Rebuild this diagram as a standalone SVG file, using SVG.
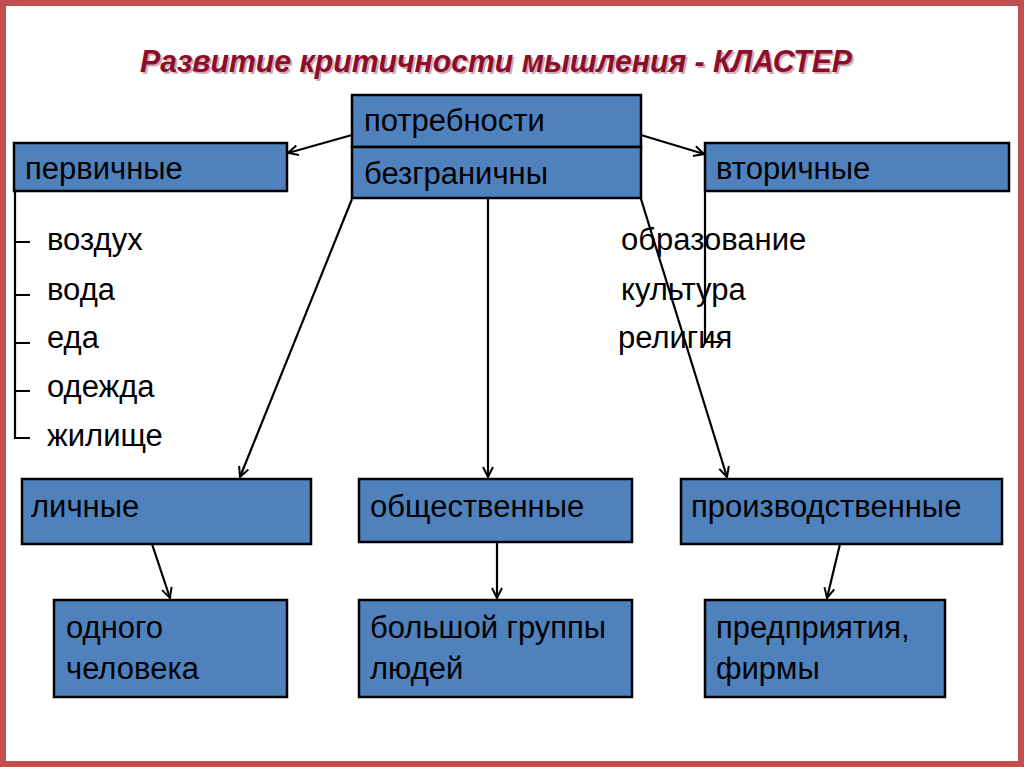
<svg xmlns="http://www.w3.org/2000/svg" width="1024" height="767" viewBox="0 0 1024 767">
<style>
.box{fill:#4f81bd;stroke:#000;stroke-width:2.5}
.t{font-family:"Liberation Sans",Arial,sans-serif;font-size:31px;fill:#000}
.ln{stroke:#000;stroke-width:2.2;fill:none}
.title{font-family:"Liberation Sans",Arial,sans-serif;font-size:31px;font-weight:bold;font-style:italic;fill:#8b0f2a}
</style>
<defs>
<marker id="ah" viewBox="0 0 12 12" refX="11" refY="6" markerWidth="12" markerHeight="12" markerUnits="userSpaceOnUse" orient="auto">
<path d="M1,1 L11,6 L1,11" fill="none" stroke="#000" stroke-width="2"/>
</marker>
</defs>
<rect x="0" y="0" width="1024" height="767" fill="#fff"/>
<rect x="3" y="3" width="1018" height="761" fill="none" stroke="#c0504d" stroke-width="6"/>
<text class="title" x="142" y="74" textLength="712" lengthAdjust="spacingAndGlyphs" fill="#2a0008" opacity="0.35">Развитие критичности мышления - КЛАСТЕР</text>
<text class="title" x="140" y="72" textLength="712" lengthAdjust="spacingAndGlyphs">Развитие критичности мышления - КЛАСТЕР</text>
<g id="connectors">
<line class="ln" x1="352" y1="135" x2="288" y2="153" marker-end="url(#ah)"/>
<line class="ln" x1="641" y1="135" x2="704" y2="154" marker-end="url(#ah)"/>
<line class="ln" x1="352" y1="199" x2="240" y2="477" marker-end="url(#ah)"/>
<line class="ln" x1="488" y1="199" x2="488" y2="477" marker-end="url(#ah)"/>
<line class="ln" x1="641" y1="199" x2="727" y2="477" marker-end="url(#ah)"/>
<line class="ln" x1="152" y1="544" x2="170" y2="598" marker-end="url(#ah)"/>
<line class="ln" x1="497" y1="542" x2="497" y2="598" marker-end="url(#ah)"/>
<line class="ln" x1="840" y1="544" x2="827" y2="598" marker-end="url(#ah)"/>
<path class="ln" d="M15,191 V438 H30 M15,242 H30 M15,295 H30 M15,343 H30 M15,391 H30"/>
<path class="ln" d="M705,191 V342 H720"/>
</g>
<g id="root">
<rect class="box" x="352" y="95" width="289" height="52"/>
<rect class="box" x="352" y="147" width="289" height="51"/>
<text class="t" x="364" y="131">потребности</text>
<text class="t" x="364" y="184">безграничны</text>
</g>
<g id="primary">
<rect class="box" x="14" y="143" width="273" height="48"/>
<text class="t" x="25" y="179">первичные</text>
</g>
<g id="primary-list">
<text class="t" x="47" y="250">воздух</text>
<text class="t" x="47" y="300">вода</text>
<text class="t" x="47" y="348">еда</text>
<text class="t" x="47" y="397">одежда</text>
<text class="t" x="47" y="446">жилище</text>
</g>
<g id="secondary">
<rect class="box" x="705" y="143" width="304" height="48"/>
<text class="t" x="716" y="179">вторичные</text>
</g>
<g id="secondary-list">
<text class="t" x="621" y="250">образование</text>
<text class="t" x="621" y="300">культура</text>
<text class="t" x="618" y="348">религия</text>
</g>
<g id="personal">
<rect class="box" x="22" y="479" width="289" height="65"/>
<text class="t" x="31" y="517">личные</text>
</g>
<g id="social">
<rect class="box" x="359" y="479" width="273" height="63"/>
<text class="t" x="370" y="517">общественные</text>
</g>
<g id="production">
<rect class="box" x="681" y="479" width="321" height="65"/>
<text class="t" x="691" y="517">производственные</text>
</g>
<g id="one-person">
<rect class="box" x="54" y="600" width="233" height="97"/>
<text class="t" x="66" y="638">одного</text>
<text class="t" x="66" y="679">человека</text>
</g>
<g id="big-group">
<rect class="box" x="359" y="600" width="273" height="97"/>
<text class="t" x="370" y="638">большой группы</text>
<text class="t" x="370" y="679">людей</text>
</g>
<g id="enterprise">
<rect class="box" x="705" y="600" width="240" height="97"/>
<text class="t" x="716" y="638">предприятия,</text>
<text class="t" x="716" y="679">фирмы</text>
</g>
</svg>
